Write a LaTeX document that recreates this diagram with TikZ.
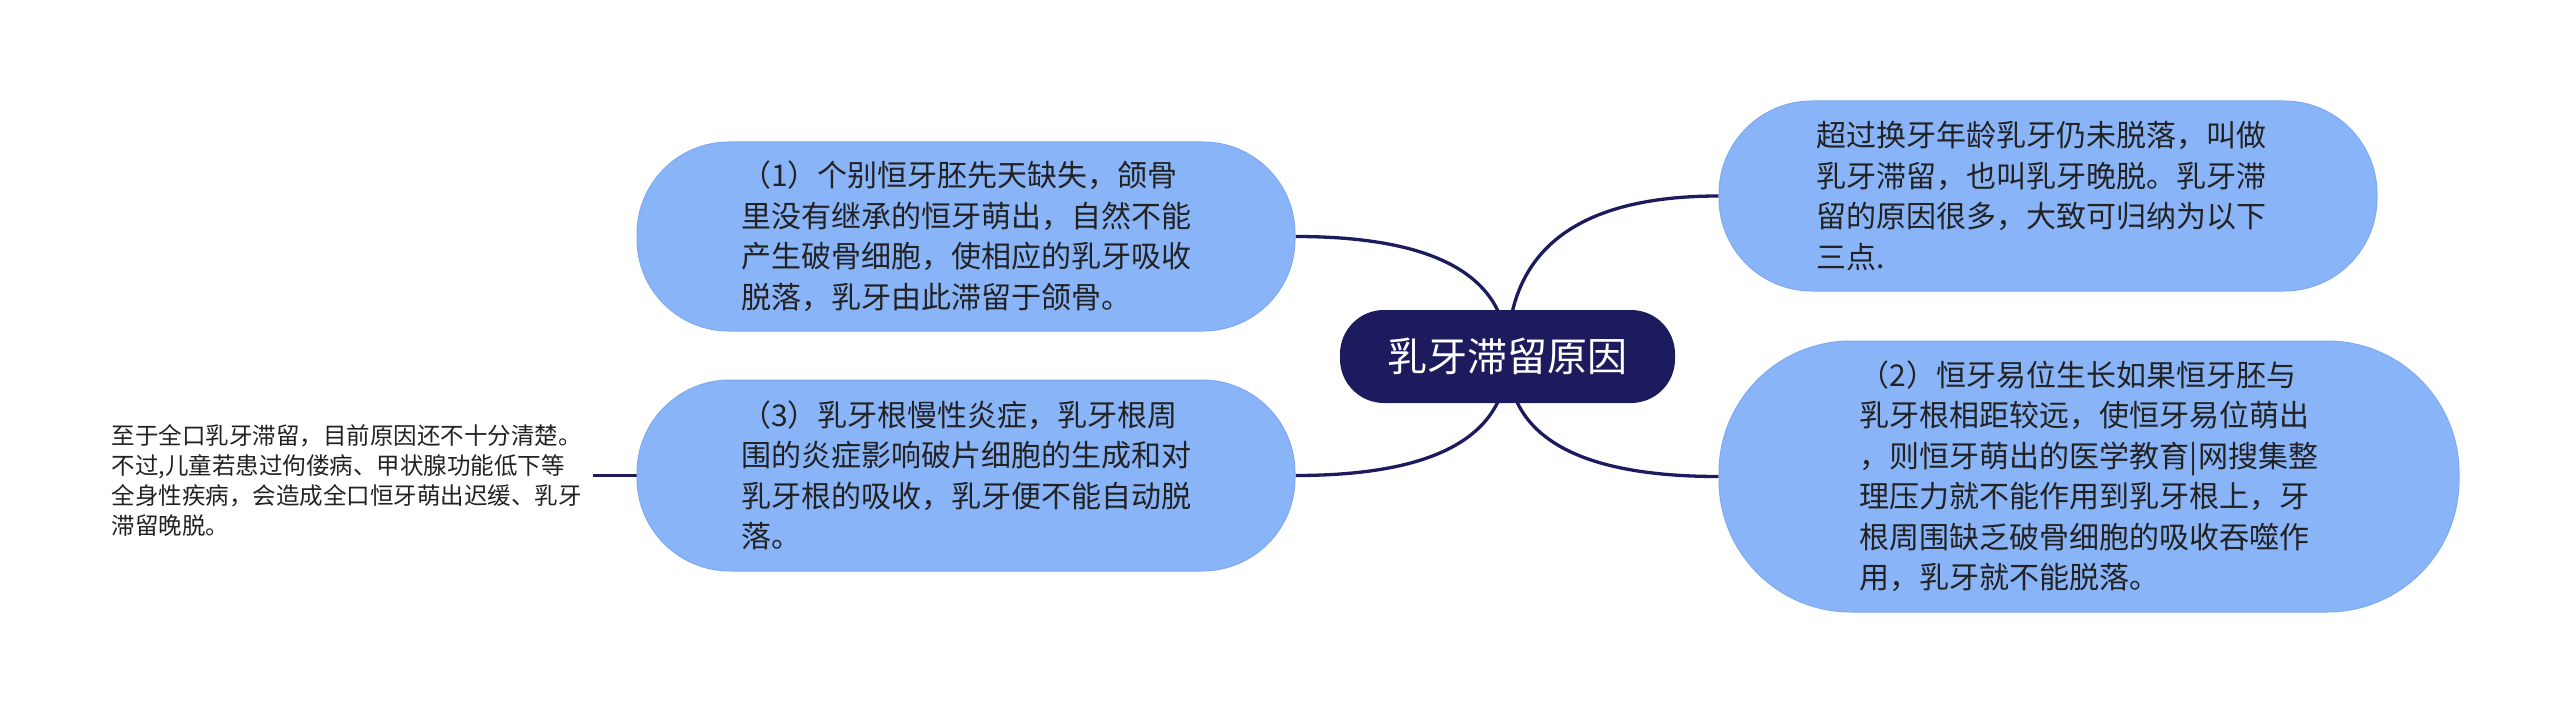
\documentclass[tikz,border=0pt]{standalone}
\usepackage{fontspec}
\setmainfont{Noto Sans CJK SC}
\usetikzlibrary{calc,backgrounds}
\definecolor{navy}{HTML}{1C1B5E}
\definecolor{leaf}{HTML}{8AB4F8}
\definecolor{leafedge}{HTML}{7EA9F2}
\definecolor{txt}{HTML}{222222}
\newcommand{\padr}{\hspace*{14pt}}
\begin{document}
\begin{tikzpicture}[x=1pt,y=-1pt,
  leafbox/.style={draw=leafedge, line width=1pt, fill=leaf, align=left, text=txt,
    font=\fontsize{30}{40.5}\selectfont, inner sep=0pt},
  conn/.style={draw=navy, line width=3.3pt},
  plain/.style={align=left, text=txt, font=\fontsize{23.5}{30}\selectfont, inner ysep=0pt, inner xsep=11pt}
]
\useasboundingbox (0,0) rectangle (2560,714);

\node[fill=navy, rounded corners=44pt, minimum width=335pt, minimum height=93pt,
  text=white, font=\fontsize{40}{48}\selectfont, inner sep=0pt] (c) at (1507.5,356.5) {乳牙滞留原因};

\node[leafbox, rounded corners=92pt, minimum width=658pt, minimum height=189pt] (n1) at (966,236.5)
  {（1）个别恒牙胚先天缺失，颌骨\\里没有继承的恒牙萌出，自然不能\padr\\产生破骨细胞，使相应的乳牙吸收\\脱落，乳牙由此滞留于颌骨。};

\node[leafbox, rounded corners=93pt, minimum width=658pt, minimum height=191pt] (n3) at (966,475.5)
  {（3）乳牙根慢性炎症，乳牙根周\\围的炎症影响破片细胞的生成和对\padr\\乳牙根的吸收，乳牙便不能自动脱\\落。};

\node[leafbox, rounded corners=93pt, minimum width=658pt, minimum height=190pt] (tr) at (2048,196)
  {超过换牙年龄乳牙仍未脱落，叫做\padr\\乳牙滞留，也叫乳牙晚脱。乳牙滞\\留的原因很多，大致可归纳为以下\\三点.};

\node[leafbox, rounded corners=132pt, minimum width=740pt, minimum height=271pt] (n2) at (2089,476.5)
  {（2）恒牙易位生长如果恒牙胚与\\乳牙根相距较远，使恒牙易位萌出\\，则恒牙萌出的医学教育|网搜集整\padr\\理压力就不能作用到乳牙根上，牙\\根周围缺乏破骨细胞的吸收吞噬作\\用，乳牙就不能脱落。};

\node[plain, anchor=east] (lt) at (593,480)
  {至于全口乳牙滞留，目前原因还不十分清楚。\\不过,儿童若患过佝偻病、甲状腺功能低下等\\全身性疾病，会造成全口恒牙萌出迟缓、乳牙\\滞留晚脱。};

\begin{scope}[on background layer]
\fill[white] (0,0) rectangle (2560,714);
\coordinate (k1) at (c.center |- n1.east);
\coordinate (k3) at (c.center |- n3.east);
\coordinate (kt) at (c.center |- tr.west);
\coordinate (k2) at (c.center |- n2.west);
\draw[conn] (c.center) .. controls ($(c.center)!2/3!(k1)$) and ($(n1.east)!2/3!(k1)$) .. (n1.east);
\draw[conn] (c.center) .. controls ($(c.center)!2/3!(k3)$) and ($(n3.east)!2/3!(k3)$) .. (n3.east);
\draw[conn] (c.center) .. controls ($(c.center)!2/3!(kt)$) and ($(tr.west)!2/3!(kt)$) .. (tr.west);
\draw[conn] (c.center) .. controls ($(c.center)!2/3!(k2)$) and ($(n2.west)!2/3!(k2)$) .. (n2.west);
\draw[conn] (n3.west) -- (n3.west -| lt.east);
\end{scope}
\end{tikzpicture}
\end{document}
